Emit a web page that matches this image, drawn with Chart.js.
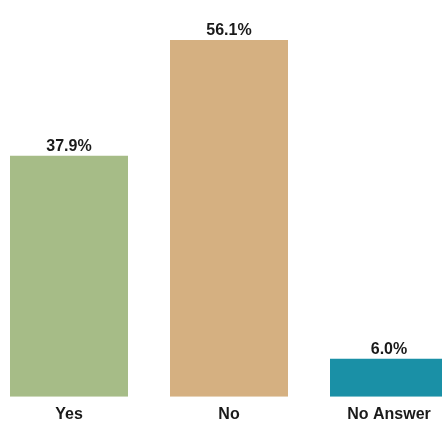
<!DOCTYPE html>
<html>
<head>
<meta charset="utf-8">
<script src="https://cdn.jsdelivr.net/npm/chart.js@4"></script>
<style>
  html, body { margin: 0; padding: 0; background: #fff; overflow: hidden; }
  #wrap { position: absolute; left: -11px; top: 0; width: 480px; height: 432px; }
</style>
</head>
<body>
<div id="wrap"><canvas id="grafico1"></canvas></div>
<script>
"use strict";

const categories = ["Yes", "No", "No Answer"];
const values = [37.9, 56.1, 6.0];
const barColors = ["#a6bc87", "#d5b081", "#1a90a6"];

const fontFamily = "'Liberation Sans', Arial, sans-serif";

// draws the percent above each bar
const valueLabels = {
	id: "valueLabels",
	afterDatasetsDraw(chart) {
		const c = chart.ctx;
		const meta = chart.getDatasetMeta(0);
		c.save();
		c.font = "bold 16px " + fontFamily;
		c.fillStyle = "#1a1a1a";
		c.textAlign = "center";
		c.textBaseline = "alphabetic";
		meta.data.forEach((bar, i) => {
			c.fillText(values[i].toFixed(1) + "%", bar.x, bar.y - 5);
		});
		c.restore();
	},
};

const ctx = document.getElementById("grafico1");

let chart1 = new Chart(ctx, {
	type: "bar",
	data: {
		labels: categories,
		datasets: [
			{
				data: values,
				backgroundColor: barColors,
				borderWidth: 0,
				barPercentage: 0.7375,
				categoryPercentage: 1,
			},
		],
	},
	options: {
		responsive: true,
		maintainAspectRatio: false,
		animation: false,
		layout: { padding: 0 },
		plugins: {
			legend: { display: false },
			tooltip: { enabled: false },
		},
		scales: {
			x: {
				grid: { display: false, drawTicks: false },
				border: { display: false },
				ticks: {
					color: "#1a1a1a",
					padding: 8,
					font: { family: fontFamily, size: 16, weight: "bold" },
				},
			},
			y: {
				display: false,
				min: 0,
				max: 62.4,
			},
		},
	},
	plugins: [valueLabels],
});
</script>
</body>
</html>
